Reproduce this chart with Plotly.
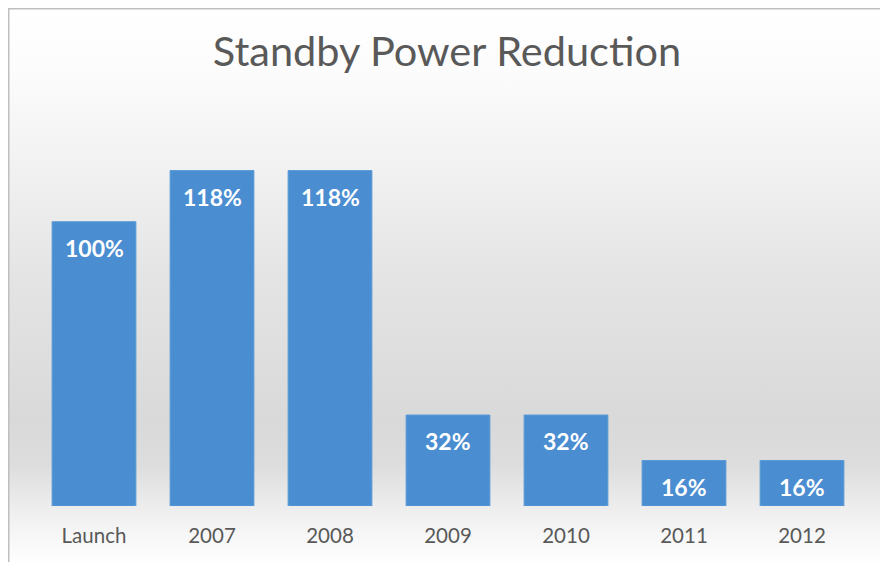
import base64
import plotly.graph_objects as go

categories = ["Launch", "2007", "2008", "2009", "2010", "2011", "2012"]
values = [100, 118, 118, 32, 32, 16, 16]
labels = ["100%", "118%", "118%", "32%", "32%", "16%", "16%"]

W, H = 888, 562
# the page body adds an 8px offset, so margins are shifted to compensate
M_L, M_R, M_T, M_B = 27, 35, 100, 64
plot_w = W - M_L - M_R
plot_h = H - M_T - M_B

# chart-area background gradient (white -> grey -> white)
stops = [(0, "#ffffff"), (62, "#fcfcfc"), (162, "#f1f1f1"), (272, "#e4e4e4"),
         (412, "#d9d9d9"), (457, "#dddddd"), (512, "#f2f2f2"), (557, "#ffffff")]
stop_xml = "".join('<stop offset="%.3f" stop-color="%s"/>' % (y / H, c) for y, c in stops)
svg = ('<svg xmlns="http://www.w3.org/2000/svg" width="888" height="562" '
       'viewBox="0 0 888 562" preserveAspectRatio="none">'
       '<defs><linearGradient id="g" x1="0" y1="0" x2="0" y2="1">' + stop_xml +
       '</linearGradient></defs>'
       '<rect x="0" y="0" width="888" height="562" fill="url(#g)"/>'
       '<rect x="0.75" y="0.75" width="874.5" height="600" fill="none" '
       'stroke="#bfbfbf" stroke-width="1.5"/></svg>')
bg_src = "data:image/svg+xml;base64," + base64.b64encode(svg.encode()).decode()

fig = go.Figure()
fig.add_trace(go.Bar(
    x=categories, y=values,
    marker=dict(color="#4a8dd1", line=dict(color="#5b9bd5", width=1)),
    hoverinfo="skip",
))

# data labels just inside the top of each bar (x given as category index)
for i, (v, t) in enumerate(zip(values, labels)):
    fig.add_annotation(x=i, y=v, text="<b>%s</b>" % t, showarrow=False,
                       yanchor="middle", yshift=-26,
                       font=dict(family="Lato", size=23, color="white"))

fig.add_layout_image(dict(
    source=bg_src, xref="paper", yref="paper",
    x=-M_L / plot_w, y=1 + M_T / plot_h,
    sizex=W / plot_w, sizey=H / plot_h,
    xanchor="left", yanchor="top", sizing="stretch", layer="below",
))

fig.update_layout(
    width=W, height=H,
    margin=dict(l=M_L, r=M_R, t=M_T, b=M_B),
    paper_bgcolor="white", plot_bgcolor="rgba(0,0,0,0)",
    title=dict(text="Standby Power Reduction", xref="container", yref="container",
               x=439 / W, xanchor="center", y=1 - 43 / H, yanchor="middle",
               font=dict(family="Lato", size=41.5, color="#595959")),
    bargap=0.29,
    showlegend=False,
    font=dict(family="Lato"),
)
fig.update_xaxes(type="category", range=[-0.5, 6.5], showgrid=False,
                 showline=False, ticks="", ticklabelstandoff=15,
                 tickfont=dict(family="Lato", size=20.5, color="#595959"))
fig.update_yaxes(range=[0, 140], visible=False)

fig.write_html("out.html")
